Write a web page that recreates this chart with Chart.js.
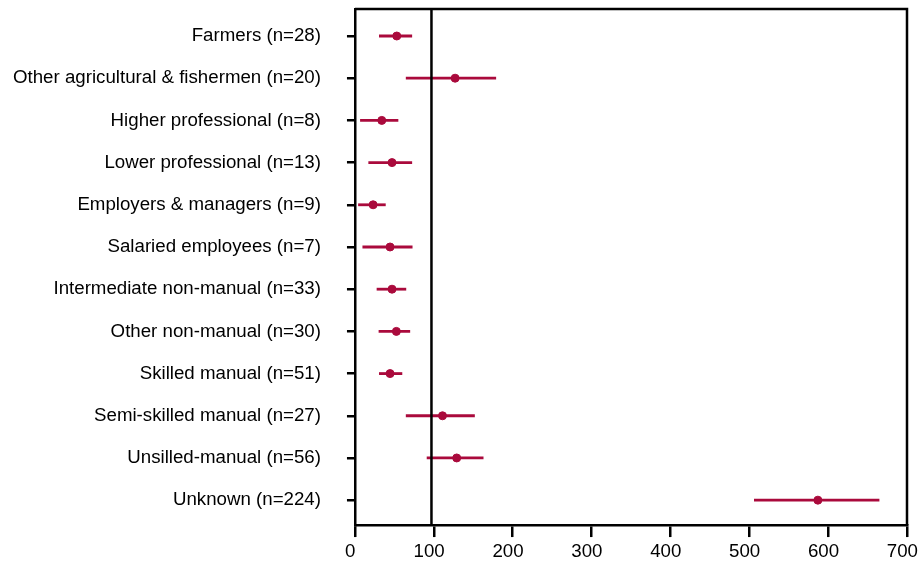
<!DOCTYPE html>
<html>
<head>
<meta charset="utf-8">
<title>Forest plot</title>
<script src="https://cdn.jsdelivr.net/npm/chart.js@4.4.1/dist/chart.umd.min.js"></script>
<style>
  html, body { margin: 0; padding: 0; background: #fff; }
  #wrap { width: 919px; height: 565px; }
</style>
</head>
<body>
<div id="wrap"><canvas id="chart"></canvas></div>
<script>
// Data
const categories = [
    'Farmers (n=28)',
    'Other agricultural & fishermen (n=20)',
    'Higher professional (n=8)',
    'Lower professional (n=13)',
    'Employers & managers (n=9)',
    'Salaried employees (n=7)',
    'Intermediate non-manual (n=33)',
    'Other non-manual (n=30)',
    'Skilled manual (n=51)',
    'Semi-skilled manual (n=27)',
    'Unsilled-manual (n=56)',
    'Unknown (n=224)'
];
const estimates = [53, 127, 34, 47, 23, 44.5, 47, 52.5, 44.5, 111, 129, 587];
const lowerCI = [30.5, 64.5, 6.5, 17, 4, 9.5, 27.5, 30, 30.5, 64.5, 91, 506];
const upperCI = [72.5, 179, 55, 72.5, 39, 73, 65, 70, 60, 152, 163, 665];
const xTicks = [0, 100, 200, 300, 400, 500, 600, 700];
const referenceValue = 97;

const markColor = '#aa0a3c';
const yMin = -0.64;
const yMax = 11.59;

// Error bars - one short line per row
const ciDatasets = categories.map((c, i) => ({
    type: 'line',
    data: [{ x: lowerCI[i], y: i }, { x: upperCI[i], y: i }],
    borderColor: markColor,
    borderWidth: 2.8,
    pointRadius: 0,
    order: 2
}));

// Reference line
const refDataset = {
    type: 'line',
    data: [{ x: referenceValue, y: yMin }, { x: referenceValue, y: yMax }],
    borderColor: '#000',
    borderWidth: 2.5,
    pointRadius: 0,
    order: 0
};

// Point estimates
const pointDataset = {
    type: 'scatter',
    data: estimates.map((v, i) => ({ x: v, y: i })),
    backgroundColor: markColor,
    borderColor: markColor,
    pointRadius: 4,
    order: 1
};

// Box around the plot area (top and right edges)
const frame = {
    id: 'frame',
    afterDraw(chart) {
        const { ctx, chartArea: a } = chart;
        ctx.save();
        ctx.strokeStyle = '#000';
        ctx.lineWidth = 2.5;
        ctx.beginPath();
        ctx.moveTo(a.left, a.top);
        ctx.lineTo(a.right, a.top);
        ctx.lineTo(a.right, a.bottom);
        ctx.stroke();
        ctx.restore();
    }
};

Chart.defaults.font.family = '"Liberation Sans", Arial, sans-serif';
Chart.defaults.font.size = 18.7;
Chart.defaults.color = '#000';

new Chart(document.getElementById('chart'), {
    type: 'scatter',
    data: { datasets: [...ciDatasets, refDataset, pointDataset] },
    options: {
        responsive: true,
        maintainAspectRatio: false,
        animation: false,
        layout: { padding: { left: 13, top: 9, right: 12, bottom: 0 } },
        plugins: { legend: { display: false }, tooltip: { enabled: false } },
        scales: {
            x: {
                type: 'linear',
                min: 0,
                max: 700,
                afterBuildTicks: axis => { axis.ticks = xTicks.map(v => ({ value: v })); },
                afterFit: axis => {
                    axis.paddingLeft = 0;
                    axis.paddingRight = 0;
                    axis.height -= 2.5;
                },
                ticks: {
                    padding: 4,
                    maxRotation: 0,
                    // labels sit a little left of their ticks in the original
                    callback: v => v + '\u2002'
                },
                grid: { drawOnChartArea: false, tickLength: 12, color: '#000', lineWidth: 2.5 },
                border: { color: '#000', width: 2.5 }
            },
            y: {
                type: 'linear',
                reverse: true,
                min: yMin,
                max: yMax,
                afterBuildTicks: axis => { axis.ticks = categories.map((c, i) => ({ value: i })); },
                afterFit: axis => {
                    axis.paddingTop = 0;
                    axis.paddingBottom = 0;
                    axis.width -= axis.options.ticks.padding;
                },
                ticks: {
                    padding: 26,
                    autoSkip: false,
                    callback: v => categories[v]
                },
                grid: { drawOnChartArea: false, tickLength: 8, color: '#000', lineWidth: 2.5 },
                border: { color: '#000', width: 2.5 }
            }
        }
    },
    plugins: [frame]
});
</script>
</body>
</html>
